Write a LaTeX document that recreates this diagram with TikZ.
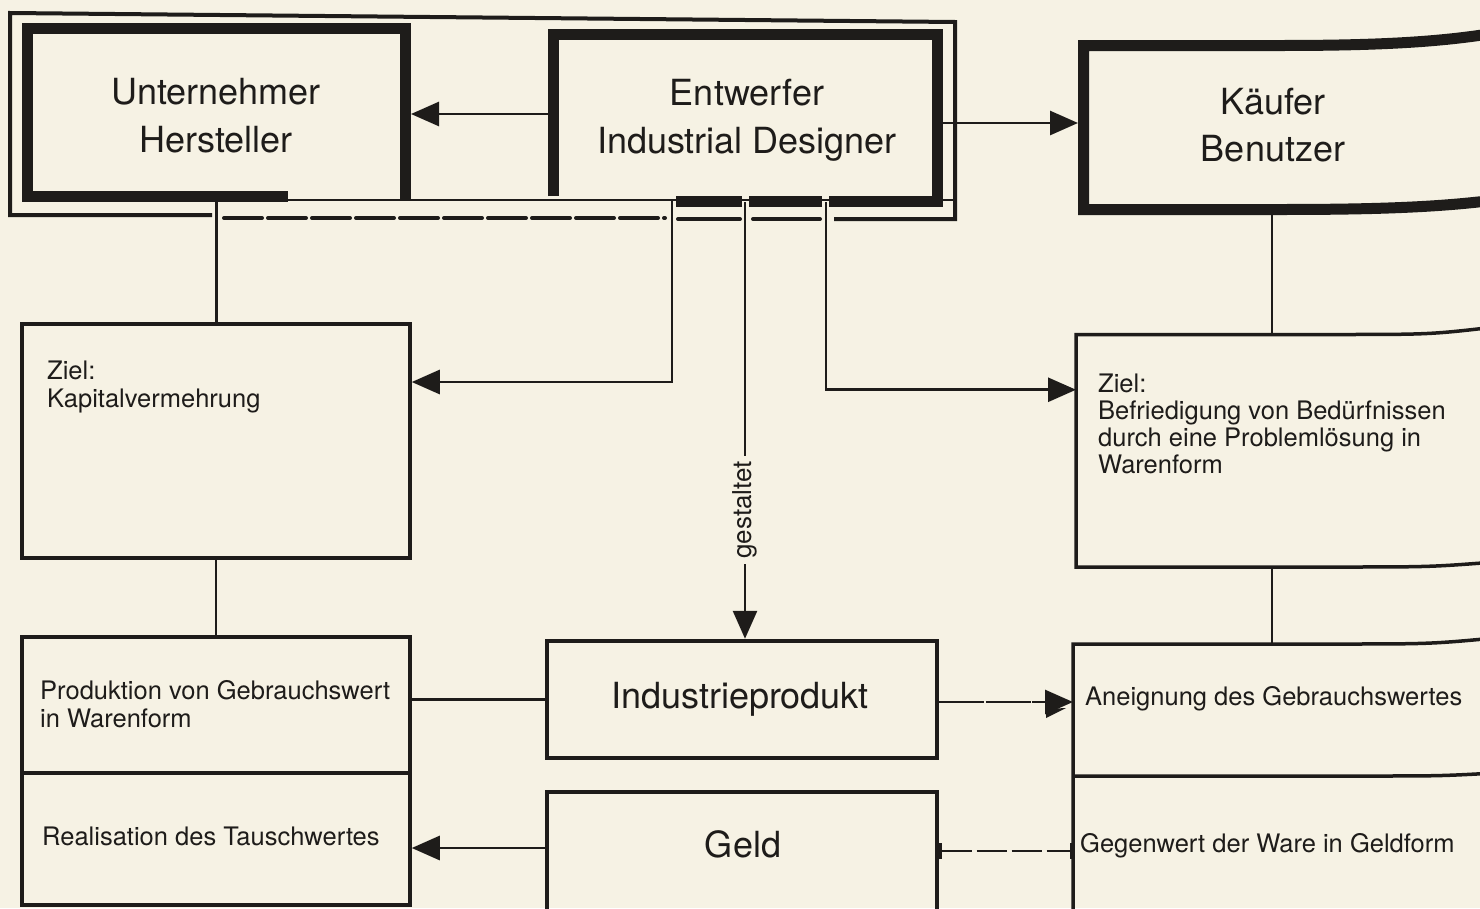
\documentclass[tikz,border=0pt]{standalone}
\usepackage{fontspec}
\setmainfont{TeX Gyre Heros}
\usetikzlibrary{arrows.meta,calc}
\definecolor{paper}{RGB}{246,242,228}
\definecolor{ink}{RGB}{30,28,26}
\begin{document}
\begin{tikzpicture}[x=1pt,y=-1pt,
  heavy/.style={draw=ink,line width=11pt,line join=miter},
  conn/.style={draw=ink,line width=2.8pt},
  framel/.style={draw=ink,line width=4pt},
  divl/.style={draw=ink,line width=3.5pt},
  boxl/.style={draw=ink,line width=3.5pt,shape=rectangle,inner sep=0pt},
  boxm/.style={draw=ink,line width=4.5pt,shape=rectangle,inner sep=0pt},
  geom/.style={shape=rectangle,draw=none,inner sep=0pt,outer sep=0pt},
  arr/.style={conn,-{Triangle[length=28pt,width=24pt]}},
  bigt/.style={font=\fontsize{36}{48}\selectfont,text=ink,align=center,inner sep=0pt},
  smallt/.style={font=\fontsize{25.5}{28}\selectfont,text=ink,align=left,inner sep=0pt},
]
\useasboundingbox (0,0) rectangle (1480,908);
\fill[paper] (0,0) rectangle (1480,908);

% ---- box geometry
\node[geom,minimum width=389pt,minimum height=179pt] (U) at (216.5,112.5) {};
\node[geom,minimum width=395pt,minimum height=178pt] (E) at (745.5,118) {};
\node[geom,minimum width=422pt,minimum height=175pt] (K) at (1289,127.5) {};
\node[boxl,minimum width=388pt,minimum height=234pt] (Z1) at (216,441) {};
\node[geom,minimum width=424pt,minimum height=232.5pt] (Z2) at (1288,450.75) {};
\node[boxl,minimum width=388pt,minimum height=268pt] (L) at (216,771) {};
\node[boxm,minimum width=390pt,minimum height=117pt] (IP) at (742,699.5) {};
\node[boxm,minimum width=390pt,minimum height=148pt] (G) at (742,866) {};
\node[geom,minimum width=427pt,minimum height=296pt] (A) at (1286.5,792) {};

% ---- heavy borders
\draw[heavy] (288,196.5) -- (27.5,196.5) -- (27.5,28.5) -- (405.5,28.5) -- (405.5,200);
\draw[heavy] (553.5,196) -- (553.5,34.5) -- (937.5,34.5) -- (937.5,201.5) -- (829,201.5);
\draw[heavy] (822,201.5) -- (749,201.5);
\draw[heavy] (742,201.5) -- (676,201.5);
\draw[heavy] (1495,33) .. controls (1440,42) and (1380,45.5) .. (1280,45.5) -- (1083.5,45.5)
  -- (1083.5,209.5) -- (1280,209.5) .. controls (1380,209.5) and (1440,207) .. (1495,200);
\draw[conn] (288,200) -- (955,200);

% ---- open boxes on the right
\draw[divl] (1495,327) .. controls (1430,334.5) .. (1330,334.5) -- (Z2.north west)
  -- (Z2.south west) -- (1330,567) .. controls (1430,567) .. (1495,562);
\draw[divl] (1495,638) .. controls (1430,644) .. (1330,644) -- (A.north west) -- (A.south west);

% ---- outer frame
\draw[framel] (212,215) -- (10,215) -- (10,13) -- (955,22) -- (955,219) -- (834,219);
\draw[framel,line cap=round,dash pattern=on 38pt off 6pt] (224,218) -- (665,218);
\draw[framel,line cap=round] (678,219) -- (740,219);
\draw[framel,line cap=round] (753,219) -- (820,219);

% ---- dividers
\draw[divl] ([yshift=-2pt]L.west) -- ([yshift=-2pt]L.east);
\draw[divl] ([yshift=16pt]A.west) -- (1360,776) .. controls (1440,776) .. (1495,773);

% ---- connectors
\coordinate (e1) at (672,200);
\coordinate (e2) at (745,202);
\coordinate (e3) at (826,202);
\draw[arr] (e1) |- ([yshift=59pt]Z1.east);
\draw[arr] (e2) -- (e2 |- IP.north);
\draw[arr] (e3) |- ([yshift=61pt]Z2.west);
\node[smallt,font=\fontsize{26}{28}\selectfont,rotate=90,fill=paper,inner sep=5pt] (gest) at (745,510) {gestaltet};

\coordinate (eu) at ([yshift=4pt]E.west);
\draw[arr] (eu) -- (eu -| U.east);
\coordinate (ek) at ([yshift=-5pt]E.east);
\draw[arr] (ek) -- (ek -| K.west);

\coordinate (k1) at (1272,212);
\draw[conn] (k1) -- (k1 |- Z2.north);
\draw[conn] (k1 |- Z2.south) -- (k1 |- A.north);
\draw[conn] (U.south) -- (U.south |- Z1.north);
\draw[conn] (Z1.south) -- (Z1.south |- L.north);
\draw[conn] (IP.west) -- (IP.west -| L.east);
\coordinate (gl) at ([yshift=18pt]G.west);
\draw[arr] (gl) -- (gl -| L.east);
\coordinate (ia) at ([yshift=-2.5pt]IP.east);
\draw[arr,dash pattern=on 45pt off 1.5pt] (ia) -- (ia -| A.west);
\fill[ink] (1046,709) -- (1066,708) -- (1046,718) -- cycle;
\coordinate (ga) at ([yshift=15pt]G.east);
\draw[conn,dash pattern=on 30pt off 5pt,{Bar[width=16pt,line width=3pt]}-{Bar[width=16pt,line width=3pt]}] (ga) -- (ga -| A.west);

% ---- texts
\node[bigt] (tU) at (216,116) {Unternehmer\\Hersteller};
\node[bigt] (tE) at (747,120) {Entwerfer\\Industrial Designer};
\node[bigt,font=\fontsize{36}{47}\selectfont] (tK) at (1273,125) {Käufer\\Benutzer};
\node[smallt,anchor=north west] (tZ1) at (47,361) {Ziel:\\Kapitalvermehrung};
\node[smallt,anchor=north west,font=\fontsize{25.5}{27}\selectfont] (tZ2) at (1098,374) {Ziel:\\Befriedigung von Bedürfnissen\\durch eine Problemlösung in\\Warenform};
\node[smallt,anchor=north west] (tP) at (40,680) {Produktion von Gebrauchswert\\in Warenform};
\node[smallt,anchor=base west] (tR) at (42,845) {Realisation des Tauschwertes};
\node[bigt] (tIP) at (740,699) {Industrieprodukt};
\node[bigt] (tG) at (743,844) {Geld};
\node[smallt,anchor=base west] (tA) at (1085,705) {Aneignung des Gebrauchswertes};
\node[smallt,anchor=base west] (tGw) at (1080,852) {Gegenwert der Ware in Geldform};
\end{tikzpicture}
\end{document}
